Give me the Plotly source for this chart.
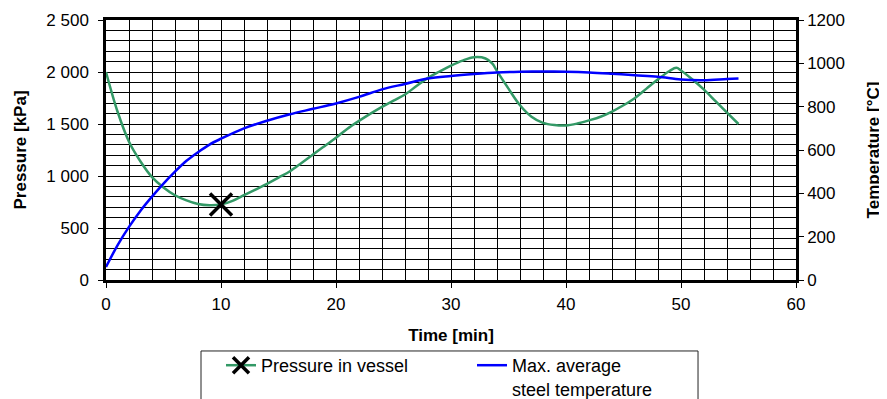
import plotly.graph_objects as go

# Pressure in vessel (kPa) vs time (min)
p_time = [0, 1, 2, 3, 4, 5, 6, 7, 8, 9, 10, 11, 12, 13, 14, 15, 16, 17, 18, 19, 20,
          21, 22, 23, 24, 25, 26, 27, 28, 29, 30, 31, 32, 33, 33.6, 34, 35, 36, 37, 38,
          39, 40, 41, 42, 43, 44, 45, 46, 47, 48, 49, 49.6, 50, 51, 52, 53, 54, 55]
pressure = [2000, 1620, 1330, 1140, 990, 890, 815, 765, 730, 718, 725, 760, 815, 870, 925,
            985, 1046, 1125, 1207, 1287, 1367, 1455, 1530, 1600, 1665, 1725, 1784, 1865,
            1944, 2005, 2062, 2110, 2142, 2130, 2080, 2008, 1840, 1680, 1570, 1511, 1490,
            1486, 1505, 1535, 1570, 1620, 1680, 1750, 1840, 1930, 2010, 2040, 2015, 1928,
            1830, 1720, 1610, 1500]

# Max. average steel temperature (°C) vs time (min)
t_time = [0, 1, 2, 3, 4, 5, 6, 7, 8, 9, 10, 12, 14, 16, 18, 20, 22, 24, 26, 28, 30,
          32, 34, 36, 38, 40, 42, 44, 46, 48, 50, 52, 54, 55]
temperature = [60, 160, 245, 320, 385, 445, 500, 550, 590, 625, 652, 700, 735, 765, 790,
               815, 845, 880, 905, 930, 942, 951, 958, 961, 962, 961, 958, 952, 945, 938,
               925, 922, 928, 930]

marker_time = [10]
marker_pressure = [726]

GREEN = "#339966"
BLUE = "#0000FF"
FONT = "Liberation Sans, Arial, sans-serif"

# page body has an 8px margin; figure is sized to fill the remaining window
W, H = 879, 391

fig = go.Figure()
fig.add_trace(go.Scatter(x=p_time, y=pressure, mode="lines", line=dict(color=GREEN, width=2.5, shape="spline"),
                         showlegend=False, legendgroup="p"))
fig.add_trace(go.Scatter(x=marker_time, y=marker_pressure, mode="lines+markers", name="Pressure in vessel",
                         line=dict(color=GREEN, width=2.5), legendgroup="p",
                         marker=dict(symbol="x-thin", size=22, color="black", line=dict(color="black", width=3.5))))
fig.add_trace(go.Scatter(x=t_time, y=temperature, mode="lines", name="Max. average<br>steel temperature",
                         line=dict(color=BLUE, width=2.5, shape="spline"), yaxis="y2"))

# legend frame
fig.add_shape(type="rect", xref="paper", yref="paper", x0=0.1377, x1=0.858, y0=-0.60, y1=-0.273,
              line=dict(color="#222222", width=1), fillcolor="rgba(0,0,0,0)", layer="above")

fig.update_layout(
    width=W, height=H,
    margin=dict(l=98, r=91, t=12, b=119),
    paper_bgcolor="white", plot_bgcolor="white",
    separators=". ",
    font=dict(family=FONT, color="black", size=17),
    xaxis=dict(range=[0, 60], dtick=10, tick0=0, showgrid=True, gridcolor="black", gridwidth=1,
               minor=dict(dtick=2, showgrid=True, gridcolor="black", gridwidth=1),
               showline=True, linecolor="black", linewidth=2.5, mirror=True,
               ticks="outside", ticklen=5, tickcolor="black", zeroline=False, automargin=False,
               tickfont=dict(size=17), ticklabelstandoff=2,
               title=dict(text="<b>Time [min]</b>", font=dict(size=17), standoff=16)),
    yaxis=dict(range=[0, 2500], dtick=500, tick0=0, tickformat=",", showgrid=True, gridcolor="black", gridwidth=1,
               minor=dict(dtick=100, showgrid=True, gridcolor="black", gridwidth=1),
               showline=True, linecolor="black", linewidth=2.5, automargin=False,
               ticks="outside", ticklen=5, tickcolor="black", zeroline=False,
               tickfont=dict(size=17), ticklabelstandoff=6,
               title=dict(text="<b>Pressure [kPa]</b>", font=dict(size=17), standoff=16)),
    yaxis2=dict(range=[0, 1200], dtick=200, tick0=0, tickformat="d", overlaying="y", side="right",
                showgrid=False, showline=True, linecolor="black", linewidth=2.5, automargin=False,
                ticks="outside", ticklen=5, tickcolor="black", zeroline=False,
                tickfont=dict(size=17),
                title=dict(text="<b>Temperature [°C]</b>", font=dict(size=17), standoff=24)),
    legend=dict(orientation="h", xref="container", yref="container", x=(221 - 8) / W, xanchor="left",
                y=1 - (347 - 8) / H, yanchor="top",
                borderwidth=0, bgcolor="rgba(0,0,0,0)", valign="top",
                font=dict(size=18), entrywidth=206, entrywidthmode="pixels", itemwidth=30),
)

fig.write_html("out.html")
